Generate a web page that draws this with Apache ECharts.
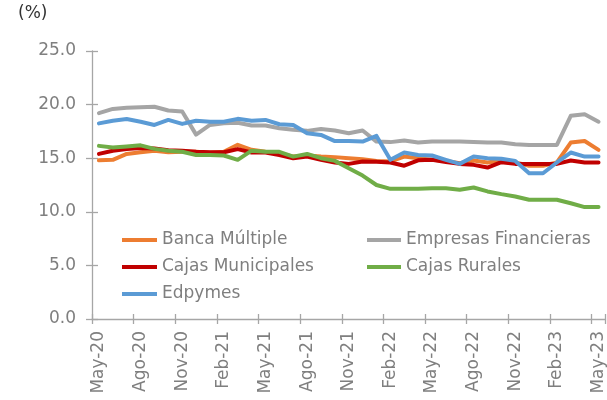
<!DOCTYPE html>
<html>
<head>
<meta charset="utf-8">
<script src="https://cdn.jsdelivr.net/npm/echarts@6/dist/echarts.min.js"></script>
<style>
html,body{margin:0;padding:0;background:#fff;}
#chart{width:607px;height:400px;}
</style>
</head>
<body>
<div id="chart"></div>
<script>
const categories = [
  'May-20','Jun-20','Jul-20','Ago-20','Sep-20','Oct-20','Nov-20','Dic-20','Ene-21','Feb-21','Mar-21','Abr-21',
  'May-21','Jun-21','Jul-21','Ago-21','Sep-21','Oct-21','Nov-21','Dic-21','Ene-22','Feb-22','Mar-22','Abr-22',
  'May-22','Jun-22','Jul-22','Ago-22','Sep-22','Oct-22','Nov-22','Dic-22','Ene-23','Feb-23','Mar-23','Abr-23','May-23'
];
const bancaMultiple = [14.8,14.85,15.4,15.55,15.7,15.55,15.6,15.6,15.5,15.6,16.25,15.78,15.6,15.47,15.15,15.25,15.15,15.1,15.0,14.9,14.75,14.7,15.15,15.0,14.85,14.75,14.53,14.78,14.6,14.78,14.6,14.3,14.3,14.6,16.46,16.6,15.78];
const empresasFinancieras = [19.2,19.6,19.7,19.75,19.8,19.45,19.35,17.2,18.1,18.25,18.3,18.05,18.05,17.8,17.65,17.55,17.73,17.58,17.33,17.58,16.55,16.5,16.65,16.46,16.55,16.55,16.55,16.5,16.46,16.46,16.3,16.24,16.24,16.24,18.95,19.1,18.4];
const cajasMunicipales = [15.4,15.7,15.85,15.95,15.9,15.75,15.7,15.6,15.55,15.55,15.85,15.53,15.53,15.3,15.0,15.15,14.85,14.6,14.47,14.7,14.66,14.6,14.3,14.8,14.85,14.65,14.47,14.38,14.13,14.63,14.47,14.47,14.47,14.47,14.78,14.6,14.6];
const cajasRurales = [16.15,16.0,16.1,16.2,15.87,15.7,15.6,15.3,15.3,15.25,14.85,15.7,15.6,15.6,15.15,15.4,15.0,14.75,14.07,13.38,12.5,12.14,12.14,12.14,12.2,12.2,12.05,12.27,11.9,11.65,11.43,11.12,11.12,11.12,10.8,10.44,10.44];
const edpymes = [18.25,18.5,18.65,18.4,18.1,18.57,18.2,18.5,18.4,18.4,18.67,18.5,18.57,18.17,18.1,17.33,17.17,16.6,16.6,16.55,17.08,14.85,15.53,15.3,15.25,14.85,14.47,15.15,15.0,14.94,14.75,13.6,13.6,14.6,15.53,15.15,15.15];
const yTicks = [0,5,10,15,20,25];

const FONT = '"DejaVu Sans", Verdana, sans-serif';
const GRAY_TXT = '#7f7f7f';
const AXIS_COL = '#a6a6a6';

const seriesDefs = [
  {name:'Banca Múltiple', data:bancaMultiple, color:'#ED7D31'},
  {name:'Empresas Financieras', data:empresasFinancieras, color:'#A5A5A5'},
  {name:'Cajas Municipales', data:cajasMunicipales, color:'#C00000'},
  {name:'Cajas Rurales', data:cajasRurales, color:'#70AD47'},
  {name:'Edpymes', data:edpymes, color:'#5B9BD5'}
];

const chart = echarts.init(document.getElementById('chart'), null, {renderer:'canvas'});
const legendText = {color:GRAY_TXT, fontFamily:FONT, fontSize:17, lineHeight:20};
chart.setOption({
  animation:false,
  backgroundColor:'#fff',
  grid:{left:92, right:0, top:51, bottom:81, containLabel:false},
  graphic:[{type:'text', left:18, top:5, style:{text:'(%)', fill:'#333', font:'17px ' + FONT}}],
  legend:[
    {data:['Banca Múltiple','Cajas Municipales','Edpymes'], orient:'vertical', left:122, top:230, padding:0,
     itemGap:7, itemWidth:35, itemHeight:4, icon:'rect', textStyle:legendText},
    {data:['Empresas Financieras','Cajas Rurales'], orient:'vertical', left:367, top:230, padding:0,
     itemGap:7, itemWidth:34, itemHeight:4, icon:'rect', textStyle:legendText}
  ],
  xAxis:[
    {type:'category', data:categories, boundaryGap:true,
     axisLine:{show:true, lineStyle:{color:AXIS_COL, width:1.3}},
     axisTick:{show:true, interval:2, length:5, lineStyle:{color:AXIS_COL, width:1.3}},
     axisLabel:{interval:2, rotate:90, margin:12, color:GRAY_TXT, fontFamily:FONT, fontSize:17},
     splitLine:{show:false}},
    {type:'category', data:categories, boundaryGap:true, position:'bottom',
     axisLine:{show:false},
     axisTick:{show:true, inside:true, interval:2, length:5, lineStyle:{color:AXIS_COL, width:1.3}},
     axisLabel:{show:false}, splitLine:{show:false}}
  ],
  yAxis:[
    {type:'value', min:yTicks[0], max:yTicks[yTicks.length-1], interval:5,
     axisLine:{show:true, lineStyle:{color:AXIS_COL, width:1.3}},
     axisTick:{show:true, length:6, lineStyle:{color:AXIS_COL, width:1.3}},
     axisLabel:{margin:16, color:GRAY_TXT, fontFamily:FONT, fontSize:17, formatter:v=>v.toFixed(1)},
     splitLine:{show:false}},
    {type:'value', min:yTicks[0], max:yTicks[yTicks.length-1], interval:5, position:'left',
     axisLine:{show:false},
     axisTick:{show:true, inside:true, length:6, lineStyle:{color:AXIS_COL, width:1.3}},
     axisLabel:{show:false}, splitLine:{show:false}}
  ],
  series: seriesDefs.map(s => ({
    name:s.name, type:'line', data:s.data, xAxisIndex:0, yAxisIndex:0,
    showSymbol:false, symbol:'none', smooth:false,
    lineStyle:{color:s.color, width:4, cap:'round', join:'round'},
    itemStyle:{color:s.color}
  }))
});
</script>
</body>
</html>
